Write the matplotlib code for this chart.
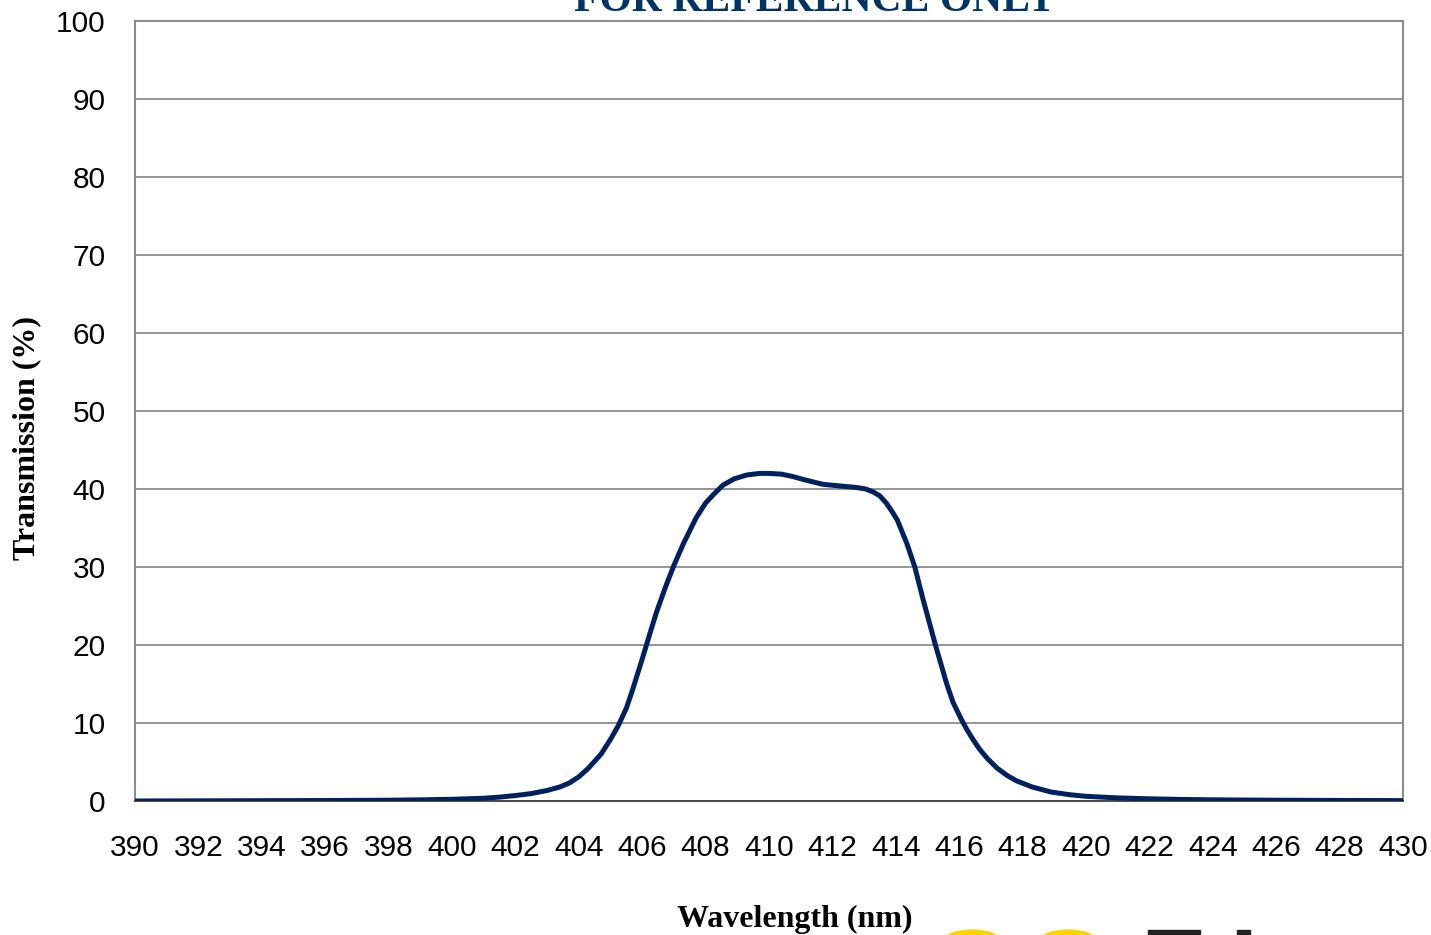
import matplotlib.pyplot as plt
from matplotlib.patches import Ellipse, Rectangle
import numpy as np

# transmission curve
wavelength = [390, 392, 394, 396, 398, 399, 400, 401, 401.5, 402, 402.5, 403, 403.4, 403.7,
              404.0, 404.3, 404.7, 405.0, 405.25, 405.5, 405.7, 406.0, 406.2, 406.45, 406.75,
              407.0, 407.3, 407.7, 408.0, 408.25, 408.55, 408.9, 409.3, 409.7, 410.0,
              410.4, 410.75, 411.1, 411.4, 411.7, 412.2, 412.75, 413.05, 413.3, 413.5,
              413.7, 413.9, 414.05, 414.35, 414.6, 414.85, 415.05, 415.25, 415.6,
              415.8, 416.05, 416.25, 416.45, 416.65, 416.9, 417.2, 417.5, 417.8, 418.3,
              418.9, 419.5, 420, 421, 422, 423, 424, 426, 428, 430]
transmission = [0.0, 0.02, 0.04, 0.06, 0.1, 0.15, 0.22, 0.35, 0.5, 0.7, 0.95, 1.35, 1.8, 2.3,
                3.1, 4.2, 6.0, 7.9, 9.7, 11.9, 14.3, 18.2, 20.9, 24.2, 27.6,
                30.2, 33.0, 36.3, 38.2, 39.3, 40.5, 41.3, 41.8, 42.0, 42.0,
                41.9, 41.6, 41.2, 40.9, 40.6, 40.4, 40.2, 40.0, 39.6, 39.1,
                38.2, 37.0, 36.0, 33.0, 30.0, 26.0, 23.0, 20.0, 15.1,
                12.7, 10.6, 9.1, 7.8, 6.6, 5.4, 4.2, 3.3, 2.6, 1.8,
                1.15, 0.8, 0.6, 0.4, 0.28, 0.2, 0.15, 0.1, 0.07, 0.05]

x_labels = list(range(390, 431, 2))
x_marks = list(range(390, 431, 4))
y_ticks = list(range(0, 101, 10))

fig = plt.figure(figsize=(14.31, 9.35), dpi=100)
ax = fig.add_axes([135 / 1431, 1 - 801 / 935, 1268 / 1431, 780 / 935])

ax.plot(wavelength, transmission, color='#002060', lw=3.6, solid_joinstyle='round',
        solid_capstyle='butt', zorder=3)

ax.set_xlim(390, 430)
ax.set_ylim(0, 100)
ax.set_xticks(x_labels)
ax.set_xticks(x_marks, minor=True)
ax.set_yticks(y_ticks)
ax.grid(axis='y', color='#8c8c8c', lw=1.3)
ax.set_axisbelow(True)

for s in ['left', 'right', 'top']:
    ax.spines[s].set_color('#8c8c8c')
    ax.spines[s].set_linewidth(1.5)
ax.spines['bottom'].set_color('#404040')
ax.spines['bottom'].set_linewidth(1.3)

ax.tick_params(axis='x', which='major', length=0, pad=24, labelsize=21.5)
ax.tick_params(axis='x', which='minor', direction='out', length=7, width=1.2,
               color='#404040')
ax.tick_params(axis='y', length=0, pad=21, labelsize=21.5)
for lab in ax.get_xticklabels() + ax.get_yticklabels():
    lab.set_fontfamily('Liberation Sans')

ax.set_xlabel('Wavelength (nm)', fontfamily='Liberation Serif', fontweight='bold',
              fontsize=23, labelpad=0)
ax.xaxis.set_label_coords(0.52, -0.133)
ax.set_ylabel('Transmission (%)', fontfamily='Liberation Serif', fontweight='bold',
              fontsize=23)
ax.yaxis.set_label_coords(-0.074, 0.465)

fig.text(815 / 1431, 1 - 11 / 935, 'FOR REFERENCE ONLY', ha='center', va='baseline',
         fontfamily='Liberation Serif', fontweight='bold', fontsize=30, color='#003366')

# bits of the logo peeking in at the bottom edge
fig.patches.append(Ellipse((972 / 1431, 1 - 955 / 935), 80 / 1431, 50 / 935,
                           transform=fig.transFigure, color='#ffd400'))
fig.patches.append(Ellipse((1068 / 1431, 1 - 955 / 935), 80 / 1431, 50 / 935,
                           transform=fig.transFigure, color='#ffd400'))
fig.patches.append(Rectangle((1148 / 1431, 0), 52 / 1431, 5 / 935,
                             transform=fig.transFigure, color='#222222'))
fig.patches.append(Rectangle((1237 / 1431, 0), 13 / 1431, 5 / 935,
                             transform=fig.transFigure, color='#222222'))

plt.savefig('out.png', dpi=100)
